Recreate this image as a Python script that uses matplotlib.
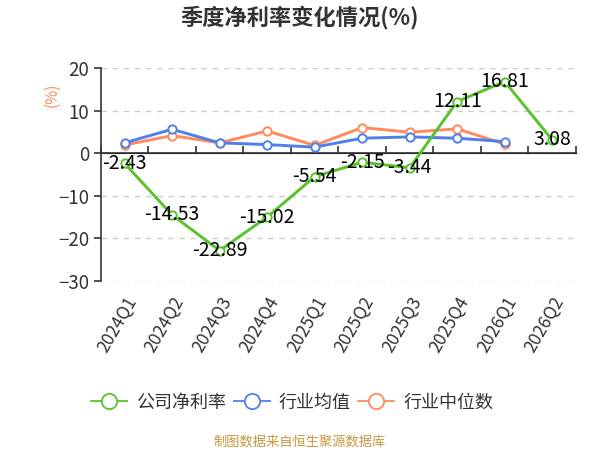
import matplotlib
matplotlib.use("Agg")
import matplotlib.pyplot as plt
import numpy as np
from matplotlib.lines import Line2D

plt.rcParams['font.family'] = ['Noto Sans CJK SC', 'DejaVu Sans']

categories = ["2024Q1", "2024Q2", "2024Q3", "2024Q4", "2025Q1",
              "2025Q2", "2025Q3", "2025Q4", "2026Q1", "2026Q2"]
company = [-2.43, -14.53, -22.89, -15.02, -5.54, -2.15, -3.44, 12.11, 16.81, 3.08]
ind_mean = [2.4, 5.6, 2.4, 2.0, 1.4, 3.5, 3.8, 3.5, 2.7]
ind_median = [1.9, 4.1, 2.4, 5.2, 1.8, 6.0, 4.9, 5.7, 2.1]
yticks = [-30, -20, -10, 0, 10, 20]

c_green = "#58c22a"
c_blue = "#4f7fe8"
c_orange = "#ff8a5c"
c_text = "#333333"

fig = plt.figure(figsize=(6, 4.5), dpi=100)
ax = fig.add_axes([0.168, 0.376, 0.792, 0.473])

n = len(categories)
x = np.arange(n)
ax.set_xlim(-0.5, n - 0.5)
ax.set_ylim(-30, 20)

for yv in yticks:
    if yv != 0:
        ax.axhline(yv, color="#cccccc", lw=1, ls=(0, (4, 4)), zorder=0)

mk = dict(marker="o", markersize=6, markerfacecolor="white", markeredgewidth=1.4)
ax.plot(x[:len(ind_median)], ind_median, color=c_orange, lw=2.1, markeredgecolor=c_orange, zorder=3, **mk)
ax.plot(x[:len(ind_mean)], ind_mean, color=c_blue, lw=2.1, markeredgecolor=c_blue, zorder=3, **mk)
ax.plot(x, company, color=c_green, lw=2.1, markeredgecolor=c_green, zorder=4, **mk)

for xi, v in zip(x, company):
    ax.text(xi, v, f"{v:.2f}", ha="center", va="center", fontsize=14,
            color="black", zorder=6)

# spines
for s in ["top", "right", "bottom"]:
    ax.spines[s].set_visible(False)
ax.spines["left"].set_color(c_text)
ax.spines["left"].set_linewidth(1.2)

ax.set_yticks(yticks)
ax.tick_params(axis="y", labelsize=13.5, colors=c_text, length=5, width=1.2)

ax.set_xticks(x)
ax.set_xticklabels(categories, rotation=60, ha="right", va="top",
                   rotation_mode="anchor", fontsize=12.5, color=c_text)
ax.tick_params(axis="x", length=0, pad=9)

# zero axis line with boundary ticks
ax.axhline(0, color=c_text, lw=1.2, zorder=2)
zero_frac = (0 - ax.get_ylim()[0]) / (ax.get_ylim()[1] - ax.get_ylim()[0])
sec = ax.secondary_xaxis(zero_frac)
sec.spines["bottom"].set_visible(False)
sec.set_xticks(np.arange(n + 1) - 0.5)
sec.set_xticklabels([])
sec.tick_params(axis="x", length=5, width=1.2, colors=c_text, direction="out")

ax.set_ylabel("(%)", color=c_orange, fontsize=11, labelpad=4)
ax.yaxis.set_label_coords(-0.084, 0.875)

fig.text(0.5, 0.962, "季度净利率变化情况(%)", ha="center", va="center",
         fontsize=16, fontweight="bold", color=c_text)

lmk = dict(marker="o", markersize=11, markerfacecolor="white", markeredgewidth=1.3)
handles = [Line2D([], [], color=c_green, lw=1.3, markeredgecolor=c_green, **lmk),
           Line2D([], [], color=c_blue, lw=1.3, markeredgecolor=c_blue, **lmk),
           Line2D([], [], color=c_orange, lw=1.3, markeredgecolor=c_orange, **lmk)]
fig.legend(handles, ["公司净利率", "行业均值", "行业中位数"], loc="center",
           bbox_to_anchor=(0.487, 0.105), ncol=3, frameon=False, fontsize=13,
           handlelength=2.0, handletextpad=0.5, columnspacing=0.4,
           labelcolor=c_text)

fig.text(0.5, 0.018, "制图数据来自恒生聚源数据库", ha="center", va="center",
         fontsize=9.5, color="#c8963e")

fig.savefig("out.png", dpi=100)
